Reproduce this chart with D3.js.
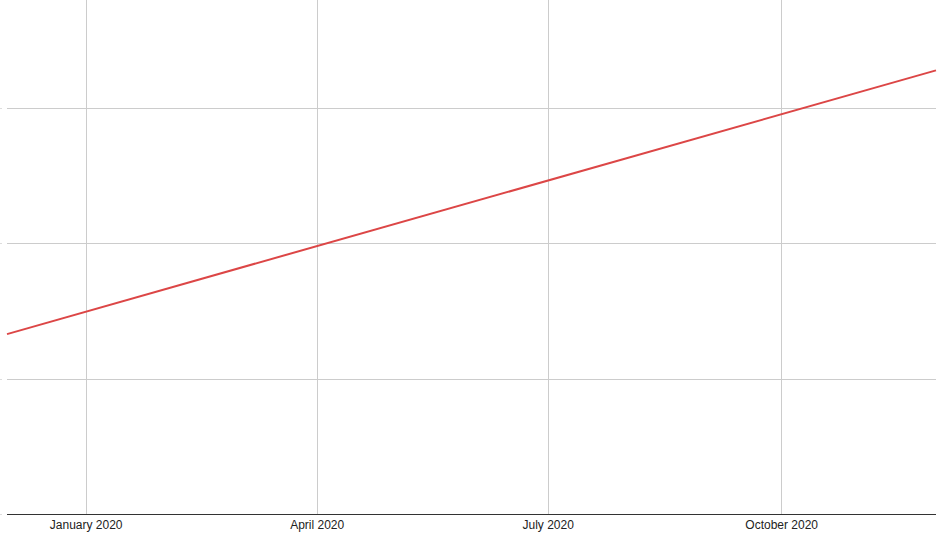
<!DOCTYPE html>
<html><head><meta charset="utf-8">
<script src="https://cdn.jsdelivr.net/npm/d3@7"></script>
<style>body{margin:0;background:#fff;}svg{display:block;font-family:Arial,"Liberation Sans",sans-serif;}</style>
</head><body>
<svg id="chart" width="951" height="542"></svg>
<script>
const dates = ["2019-12-01", "2020-12-01"];
const values = [13.3, 32.8];
const xTicks = ["2020-01-01", "2020-04-01", "2020-07-01", "2020-10-01"];
const xTickLabels = ["January 2020", "April 2020", "July 2020", "October 2020"];
const yTicks = [0, 10, 20, 30];

(function () {
const parse = d3.timeParse("%Y-%m-%d");
const svg = d3.select("#chart");
const mLeft = 7, mRight = 936, mTop = 0, mBottom = 514;
const x = d3.scaleTime().domain([parse("2019-12-01"), parse("2020-12-01")]).range([mLeft, mRight]);
const y = d3.scaleLinear().domain([0, 38]).range([mBottom, mTop]);

// grid
svg.append("g").selectAll("line").data(yTicks.slice(1)).join("line")
  .attr("x1", mLeft).attr("x2", mRight)
  .attr("y1", d => Math.round(y(d)) + 0.5).attr("y2", d => Math.round(y(d)) + 0.5)
  .attr("stroke", "#cccccc").attr("stroke-width", 1);
svg.append("g").selectAll("line").data(xTicks).join("line")
  .attr("x1", d => Math.round(x(parse(d))) + 0.5).attr("x2", d => Math.round(x(parse(d))) + 0.5)
  .attr("y1", mTop).attr("y2", mBottom)
  .attr("stroke", "#cccccc").attr("stroke-width", 1);
// y ticks (tiny)
svg.append("g").selectAll("line").data(yTicks).join("line")
  .attr("x1", 0).attr("x2", 2)
  .attr("y1", d => Math.round(y(d)) + 0.5).attr("y2", d => Math.round(y(d)) + 0.5)
  .attr("stroke", "#dddddd");

// x axis
const xAxis = d3.axisBottom(x).tickValues(xTicks.map(parse))
  .tickFormat((d, i) => xTickLabels[i]).tickSize(0).tickPadding(6);
const gx = svg.append("g").attr("transform", `translate(0,${mBottom + 0.5})`).call(xAxis);
gx.select(".domain").attr("stroke", "#333333").attr("d", `M${mLeft},0H${mRight}`);
gx.selectAll("text").attr("font-size", 12).attr("fill", "#222").attr("font-family", "Arial, 'Liberation Sans', sans-serif");

// line
const line = d3.line().x((d, i) => x(parse(dates[i]))).y(d => y(d));
svg.append("path").datum(values).attr("d", line)
  .attr("fill", "none").attr("stroke", "#dc4646").attr("stroke-width", 2);
})();
</script>
</body></html>
